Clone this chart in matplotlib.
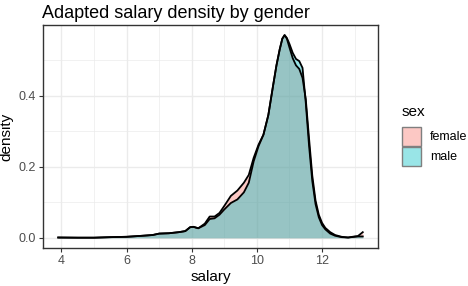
import matplotlib.pyplot as plt
from matplotlib.patches import Rectangle

# density curves
salary = [3.9, 4.5, 5.0, 5.5, 6.0, 6.5, 6.8, 7.0, 7.3, 7.6, 7.8, 7.95, 8.05, 8.2,
          8.4, 8.55, 8.7, 8.85, 9.0, 9.2, 9.4, 9.6, 9.75, 9.9, 10.05, 10.2, 10.35,
          10.5, 10.6, 10.7, 10.78, 10.85, 10.92, 11.0, 11.1, 11.2, 11.3, 11.4, 11.5,
          11.6, 11.7, 11.8, 11.9, 12.0, 12.1, 12.25, 12.4, 12.6, 12.8, 13.0, 13.1, 13.25]
female = [0.001, 0.0005, 0.0005, 0.002, 0.003, 0.006, 0.008, 0.012, 0.013, 0.016,
          0.019, 0.030, 0.031, 0.027, 0.040, 0.060, 0.060, 0.070, 0.090, 0.118,
          0.133, 0.155, 0.177, 0.225, 0.262, 0.290, 0.345, 0.430, 0.485, 0.530,
          0.560, 0.570, 0.560, 0.535, 0.505, 0.485, 0.475, 0.450, 0.390, 0.280,
          0.175, 0.105, 0.065, 0.042, 0.028, 0.016, 0.008, 0.003, 0.001, 0.004,
          0.005, 0.016]
male = [0.001, 0.0005, 0.0005, 0.002, 0.003, 0.006, 0.008, 0.012, 0.013, 0.016,
        0.019, 0.030, 0.031, 0.027, 0.036, 0.053, 0.055, 0.065, 0.080, 0.098,
        0.108, 0.128, 0.155, 0.215, 0.258, 0.290, 0.345, 0.430, 0.485, 0.530,
        0.560, 0.570, 0.562, 0.545, 0.520, 0.503, 0.497, 0.478, 0.380, 0.260,
        0.160, 0.095, 0.058, 0.036, 0.024, 0.012, 0.006, 0.002, 0.001, 0.003,
        0.004, 0.004]

groups = ['female', 'male']
colors = ['#F8766D', '#00BFC4']

plt.rcParams['font.family'] = ['Liberation Sans', 'DejaVu Sans']

W, H = 468, 286
fig = plt.figure(figsize=(W / 100, H / 100), dpi=100)
ax = fig.add_axes([43 / W, 1 - 248 / H, (378 - 43) / W, (248 - 25) / H])

for vals, col in zip([female, male], colors):
    ax.fill_between(salary, 0, vals, color=col, alpha=0.4, linewidth=0)
    ax.plot(salary, vals, color='black', lw=1.3, solid_joinstyle='round')

xmin, xmax = min(salary), max(salary)
pad = (xmax - xmin) * 0.05
ax.set_xlim(xmin - pad, xmax + pad)
ymax = max(max(female), max(male))
ax.set_ylim(-ymax * 0.05, ymax * 1.05)

ax.set_xticks([4, 6, 8, 10, 12])
ax.set_xticks([5, 7, 9, 11, 13], minor=True)
ax.set_yticks([0.0, 0.2, 0.4])
ax.set_yticks([0.1, 0.3, 0.5], minor=True)
ax.set_yticklabels(['0.0', '0.2', '0.4'])
ax.grid(which='major', color='#EBEBEB', lw=1.0)
ax.grid(which='minor', color='#EBEBEB', lw=0.5)
ax.set_axisbelow(True)
for s in ax.spines.values():
    s.set_color('#333333')
    s.set_linewidth(1.0)
ax.tick_params(which='major', length=3, width=0.8, color='#333333',
               labelsize=9, labelcolor='#4D4D4D', pad=2)
ax.tick_params(which='minor', length=0)

ax.set_xlabel('salary', fontsize=11, labelpad=2)
ax.set_ylabel('density', fontsize=11, labelpad=4)
ax.set_title('Adapted salary density by gender', fontsize=13, loc='left',
             x=-0.003, pad=5)

# legend
fig.text(402 / W, 1 - 112 / H, 'sex', fontsize=11, va='center', ha='left')
for i, (g, col) in enumerate(zip(groups, colors)):
    y0 = 127 + i * 20
    fig.patches.append(Rectangle((402 / W, 1 - (y0 + 19) / H), 19 / W, 19 / H,
                                 transform=fig.transFigure, facecolor=col,
                                 alpha=0.4, edgecolor='none'))
    fig.patches.append(Rectangle((402 / W, 1 - (y0 + 19) / H), 19 / W, 19 / H,
                                 transform=fig.transFigure, facecolor='none',
                                 edgecolor='#7F7F7F', lw=1.0))
    fig.text(430 / W, 1 - (y0 + 10) / H, g, fontsize=9, va='center', ha='left')

fig.savefig('out.png', dpi=100)
